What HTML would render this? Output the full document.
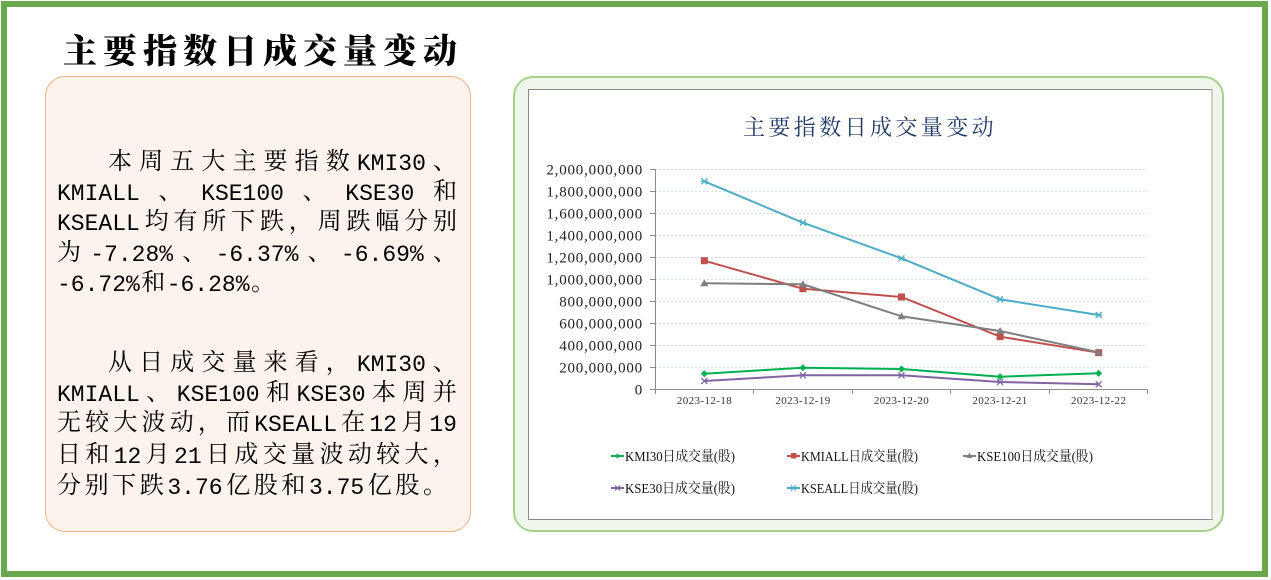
<!DOCTYPE html>
<html><head><meta charset="utf-8">
<style>
*{margin:0;padding:0;box-sizing:border-box}
html,body{width:1271px;height:580px;background:#fff;overflow:hidden}
body{position:relative;font-family:"Liberation Mono","Noto Serif CJK SC",serif}
.outer{position:absolute;left:1px;top:1px;width:1267px;height:576px;border:6px solid #6aa84f}
.title{position:absolute;left:63px;top:31px;height:36px;line-height:36px;font-size:34px;font-weight:900;letter-spacing:6px;font-family:"Noto Serif CJK SC",serif;color:#000;white-space:nowrap}
.obox{position:absolute;left:45px;top:76px;width:426px;height:456px;border:1.5px solid #f4b183;border-radius:20px;background:#fdf3ed}
.gbox{position:absolute;left:513px;top:76px;width:711px;height:456px;border:2px solid #a9d18e;border-radius:20px;background:#eff6ea}
.cbox{position:absolute;left:528px;top:89px;width:685px;height:431px;background:#fff;border:1px solid #8a8a8a;border-right:2px solid #cfcfcf}
.ln{position:absolute;height:30px;line-height:30px;display:flex;justify-content:space-between;align-items:center;font-size:24px;color:#000;white-space:nowrap}
.ln span{display:block}
.ln .l{font-size:23px}
svg{position:absolute;left:0;top:0}
</style></head><body>
<div class="outer"></div>
<div class="title">主要指数日成交量变动</div>
<div class="obox"></div>
<div class="gbox"></div>
<div class="cbox"></div>

<!-- paragraph 1 -->
<div class="ln" style="left:108px;top:149px;width:349px"><span>本</span><span>周</span><span>五</span><span>大</span><span>主</span><span>要</span><span>指</span><span>数</span><span class="l">KMI30</span><span>、</span></div>
<div class="ln" style="left:57px;top:179px;width:400px"><span class="l">KMIALL</span><span>、</span><span class="l">KSE100</span><span>、</span><span class="l">KSE30</span><span>和</span></div>
<div class="ln" style="left:57px;top:209px;width:400px"><span class="l">KSEALL</span><span>均</span><span>有</span><span>所</span><span>下</span><span>跌</span><span>，</span><span>周</span><span>跌</span><span>幅</span><span>分</span><span>别</span></div>
<div class="ln" style="left:57px;top:240px;width:400px"><span>为</span><span class="l">-7.28%</span><span>、</span><span class="l">-6.37%</span><span>、</span><span class="l">-6.69%</span><span>、</span></div>
<div class="ln" style="left:57px;top:270px;width:218px"><span class="l">-6.72%</span><span>和</span><span class="l">-6.28%</span><span>。</span></div>

<!-- paragraph 2 -->
<div class="ln" style="left:108px;top:350px;width:349px"><span>从</span><span>日</span><span>成</span><span>交</span><span>量</span><span>来</span><span>看</span><span>，</span><span class="l">KMI30</span><span>、</span></div>
<div class="ln" style="left:57px;top:380px;width:400px"><span class="l">KMIALL</span><span>、</span><span class="l">KSE100</span><span>和</span><span class="l">KSE30</span><span>本</span><span>周</span><span>并</span></div>
<div class="ln" style="left:57px;top:410px;width:400px"><span>无</span><span>较</span><span>大</span><span>波</span><span>动</span><span>，</span><span>而</span><span class="l">KSEALL</span><span>在</span><span class="l">12</span><span>月</span><span class="l">19</span></div>
<div class="ln" style="left:57px;top:442px;width:400px"><span>日</span><span>和</span><span class="l">12</span><span>月</span><span class="l">21</span><span>日</span><span>成</span><span>交</span><span>量</span><span>波</span><span>动</span><span>较</span><span>大</span><span>，</span></div>
<div class="ln" style="left:57px;top:473px;width:390px"><span>分</span><span>别</span><span>下</span><span>跌</span><span class="l">3.76</span><span>亿</span><span>股</span><span>和</span><span class="l">3.75</span><span>亿</span><span>股</span><span>。</span></div>

<svg width="1271" height="580" viewBox="0 0 1271 580" xmlns="http://www.w3.org/2000/svg">
  <text x="743" y="135" font-family="Noto Serif CJK SC, serif" font-size="22" letter-spacing="3.4" fill="#1f3864">主要指数日成交量变动</text>

  <!-- gridlines -->
  <g stroke="#d6dfec" stroke-width="1" stroke-dasharray="2,2">
    <line x1="655" y1="169.5" x2="1148" y2="169.5"/>
    <line x1="655" y1="191.5" x2="1148" y2="191.5"/>
    <line x1="655" y1="213.5" x2="1148" y2="213.5"/>
    <line x1="655" y1="235.5" x2="1148" y2="235.5"/>
    <line x1="655" y1="257.5" x2="1148" y2="257.5"/>
    <line x1="655" y1="279.5" x2="1148" y2="279.5"/>
    <line x1="655" y1="301.5" x2="1148" y2="301.5"/>
    <line x1="655" y1="323.5" x2="1148" y2="323.5"/>
    <line x1="655" y1="345.5" x2="1148" y2="345.5"/>
    <line x1="655" y1="367.5" x2="1148" y2="367.5"/>
  </g>
  <!-- axes -->
  <g stroke="#8c8c8c" stroke-width="1">
    <line x1="655.5" y1="169" x2="655.5" y2="390"/>
    <line x1="655" y1="389.5" x2="1148" y2="389.5"/>
    <line x1="650" y1="169.5" x2="655" y2="169.5"/>
    <line x1="650" y1="191.5" x2="655" y2="191.5"/>
    <line x1="650" y1="213.5" x2="655" y2="213.5"/>
    <line x1="650" y1="235.5" x2="655" y2="235.5"/>
    <line x1="650" y1="257.5" x2="655" y2="257.5"/>
    <line x1="650" y1="279.5" x2="655" y2="279.5"/>
    <line x1="650" y1="301.5" x2="655" y2="301.5"/>
    <line x1="650" y1="323.5" x2="655" y2="323.5"/>
    <line x1="650" y1="345.5" x2="655" y2="345.5"/>
    <line x1="650" y1="367.5" x2="655" y2="367.5"/>
    <line x1="650" y1="389.5" x2="655" y2="389.5"/>
    <line x1="655.5" y1="389" x2="655.5" y2="394"/>
    <line x1="753.5" y1="389" x2="753.5" y2="394"/>
    <line x1="852.5" y1="389" x2="852.5" y2="394"/>
    <line x1="950.5" y1="389" x2="950.5" y2="394"/>
    <line x1="1049.5" y1="389" x2="1049.5" y2="394"/>
    <line x1="1147.5" y1="389" x2="1147.5" y2="394"/>
  </g>
  <!-- y labels -->
  <g font-family="Liberation Serif, serif" font-size="15" fill="#222" text-anchor="end" letter-spacing="0.8">
    <text x="643" y="174.5">2,000,000,000</text>
    <text x="643" y="196.5">1,800,000,000</text>
    <text x="643" y="218.5">1,600,000,000</text>
    <text x="643" y="240.5">1,400,000,000</text>
    <text x="643" y="262.5">1,200,000,000</text>
    <text x="643" y="284.5">1,000,000,000</text>
    <text x="643" y="306.5">800,000,000</text>
    <text x="643" y="328.5">600,000,000</text>
    <text x="643" y="350.5">400,000,000</text>
    <text x="643" y="372.5">200,000,000</text>
    <text x="643" y="394.5">0</text>
  </g>
  <!-- x labels -->
  <g font-family="Liberation Serif, serif" font-size="11" fill="#333" text-anchor="middle" letter-spacing="0.4">
    <text x="704.5" y="404">2023-12-18</text>
    <text x="803" y="404">2023-12-19</text>
    <text x="901.5" y="404">2023-12-20</text>
    <text x="1000" y="404">2023-12-21</text>
    <text x="1098.7" y="404">2023-12-22</text>
  </g>

  <!-- series -->
  <polyline fill="none" stroke="#00b050" stroke-width="2" points="704.3,373.7 802.9,367.7 901.5,369 1000.1,376.7 1098.7,373.3"/>
  <g fill="#00b050">
    <path d="M704.3,370.2L707.8,373.7L704.3,377.2L700.8,373.7Z"/>
    <path d="M802.9,364.2L806.4,367.7L802.9,371.2L799.4,367.7Z"/>
    <path d="M901.5,365.5L905,369L901.5,372.5L898,369Z"/>
    <path d="M1000.1,373.2L1003.6,376.7L1000.1,380.2L996.6,376.7Z"/>
    <path d="M1098.7,369.8L1102.2,373.3L1098.7,376.8L1095.2,373.3Z"/>
  </g>
  <polyline fill="none" stroke="#c0504d" stroke-width="2" points="704.3,260.7 802.9,288.7 901.5,297 1000.1,336.7 1098.7,352.7"/>
  <g fill="#c0504d">
    <rect x="700.8" y="257.2" width="7" height="7"/>
    <rect x="799.4" y="285.2" width="7" height="7"/>
    <rect x="898" y="293.5" width="7" height="7"/>
    <rect x="996.6" y="333.2" width="7" height="7"/>
    <rect x="1095.2" y="349.2" width="7" height="7"/>
  </g>
  <polyline fill="none" stroke="#7f7f7f" stroke-width="2" points="704.3,283.3 802.9,284.3 901.5,316.3 1000.1,331 1098.7,352.3"/>
  <g fill="#7f7f7f">
    <path d="M704.3,279.3L708.3,286.3L700.3,286.3Z"/>
    <path d="M802.9,280.3L806.9,287.3L798.9,287.3Z"/>
    <path d="M901.5,312.3L905.5,319.3L897.5,319.3Z"/>
    <path d="M1000.1,327L1004.1,334L996.1,334Z"/>
    <path d="M1098.7,348.3L1102.7,355.3L1094.7,355.3Z"/>
  </g>
  <polyline fill="none" stroke="#8064a2" stroke-width="2" points="704.3,381 802.9,375.3 901.5,375.3 1000.1,382 1098.7,384.3"/>
  <g stroke="#8064a2" stroke-width="1.3">
    <path d="M701.3,378L707.3,384M707.3,378L701.3,384"/>
    <path d="M799.9,372.3L805.9,378.3M805.9,372.3L799.9,378.3"/>
    <path d="M898.5,372.3L904.5,378.3M904.5,372.3L898.5,378.3"/>
    <path d="M997.1,379L1003.1,385M1003.1,379L997.1,385"/>
    <path d="M1095.7,381.3L1101.7,387.3M1101.7,381.3L1095.7,387.3"/>
  </g>
  <polyline fill="none" stroke="#4bacc6" stroke-width="2" points="704.3,181.3 802.9,222.7 901.5,258.3 1000.1,299.3 1098.7,315"/>
  <g stroke="#4bacc6" stroke-width="1.3">
    <path d="M701.3,178.3L707.3,184.3M707.3,178.3L701.3,184.3M701,181.3L707.6,181.3"/>
    <path d="M799.9,219.7L805.9,225.7M805.9,219.7L799.9,225.7M799.6,222.7L806.2,222.7"/>
    <path d="M898.5,255.3L904.5,261.3M904.5,255.3L898.5,261.3M898.2,258.3L904.8,258.3"/>
    <path d="M997.1,296.3L1003.1,302.3M1003.1,296.3L997.1,302.3M996.8,299.3L1003.4,299.3"/>
    <path d="M1095.7,312L1101.7,318M1101.7,312L1095.7,318M1095.4,315L1102,315"/>
  </g>

  <!-- legend -->
  <g font-family="Liberation Serif, Noto Serif CJK SC, serif" font-size="14" fill="#111">
    <line x1="611" y1="456" x2="624" y2="456" stroke="#00b050" stroke-width="2"/>
    <path d="M617.5,453.5L620,456L617.5,458.5L615,456Z" fill="#00b050"/>
    <text x="625" y="461" textLength="110" lengthAdjust="spacingAndGlyphs">KMI30日成交量(股)</text>

    <line x1="787" y1="456" x2="800" y2="456" stroke="#c0504d" stroke-width="2"/>
    <rect x="791" y="453" width="5.5" height="5.5" fill="#c0504d"/>
    <text x="801" y="461" textLength="117" lengthAdjust="spacingAndGlyphs">KMIALL日成交量(股)</text>

    <line x1="963" y1="456" x2="976" y2="456" stroke="#7f7f7f" stroke-width="2"/>
    <path d="M969.5,452.5L972.5,458L966.5,458Z" fill="#7f7f7f"/>
    <text x="977" y="461" textLength="116" lengthAdjust="spacingAndGlyphs">KSE100日成交量(股)</text>

    <line x1="611" y1="488" x2="624" y2="488" stroke="#8064a2" stroke-width="2"/>
    <path d="M615,485.5L620,490.5M620,485.5L615,490.5" stroke="#8064a2" stroke-width="1.2"/>
    <text x="625" y="493" textLength="110" lengthAdjust="spacingAndGlyphs">KSE30日成交量(股)</text>

    <line x1="787" y1="488" x2="800" y2="488" stroke="#4bacc6" stroke-width="2"/>
    <path d="M791,485.5L796,490.5M796,485.5L791,490.5" stroke="#4bacc6" stroke-width="1.2"/>
    <text x="801" y="493" textLength="117" lengthAdjust="spacingAndGlyphs">KSEALL日成交量(股)</text>
  </g>
</svg>
</body></html>
